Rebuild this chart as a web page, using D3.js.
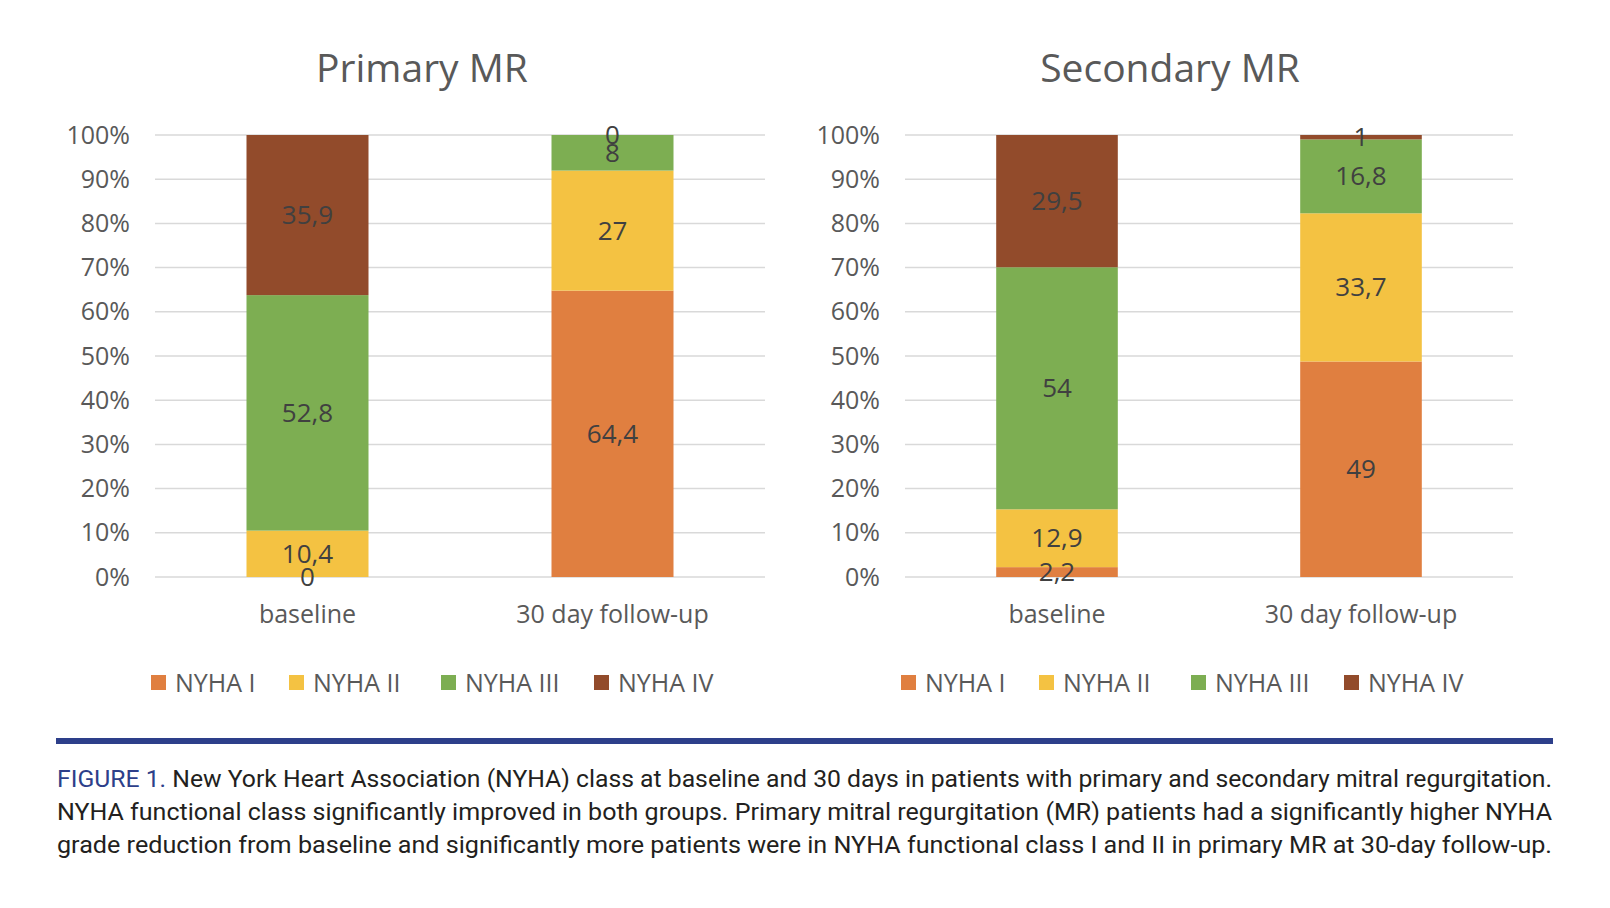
<!DOCTYPE html>
<meta charset="utf-8">
<head>
  <script src="https://d3js.org/d3.v7.min.js"></script>
</head>
<style>
body { margin: 0; background: white; }
.tick text { font-family: "Open Sans", sans-serif; fill: #595959; }
.seg-label { font-family: "Open Sans", sans-serif; fill: #404040; font-size: 26px; }
.chart-title { font-family: "Open Sans", sans-serif; fill: #595959; font-size: 39px; }
.legend text { font-family: "Open Sans", sans-serif; fill: #595959; font-size: 25px; }
.caption { font-family: "Roboto", "Liberation Sans Narrow", sans-serif; font-size: 24px; fill: #231f20; }
</style>
<body>
<svg width="1610" height="908" id="container"></svg>
<script>

// data
var classes = ["NYHA I", "NYHA II", "NYHA III", "NYHA IV"];
var classColors = ["#e07f40", "#f4c242", "#7dae52", "#924b2b"];
var timepoints = ["baseline", "30 day follow-up"];
var primaryValues = [[0, 10.4, 52.8, 35.9], [64.4, 27, 8, 0]];
var secondaryValues = [[2.2, 12.9, 54, 29.5], [49, 33.7, 16.8, 1]];
var yTicks = [0, 0.1, 0.2, 0.3, 0.4, 0.5, 0.6, 0.7, 0.8, 0.9, 1];
var captionLines = [
  "New York Heart Association (NYHA) class at baseline and 30 days in patients with primary and secondary mitral regurgitation.",
  "NYHA functional class significantly improved in both groups. Primary mitral regurgitation (MR) patients had a significantly higher NYHA",
  "grade reduction from baseline and significantly more patients were in NYHA functional class I and II in primary MR at 30-day follow-up."
];

var svg = d3.select('#container');
var color = d3.scaleOrdinal().domain(classes).range(classColors);

function fmt(v) { return String(v).replace('.', ','); }

function drawChart(title, values, left, right, titleX) {
  var top = 135, bottom = 577;
  var x = d3.scaleBand().domain(timepoints).range([left, right]).paddingInner(0.6).paddingOuter(0.3);
  var y = d3.scaleLinear().domain([0, 1]).range([bottom, top]);
  var g = svg.append('g');

  // grid
  g.selectAll('.grid')
   .data(yTicks)
   .enter().append('line')
   .attr('x1', left).attr('x2', right)
   .attr('y1', function(d) { return y(d); })
   .attr('y2', function(d) { return y(d); })
   .attr('stroke', '#d9d9d9').attr('stroke-width', 1.5);

  var yAxis = g.append('g')
               .attr('transform', 'translate(' + (left - 25) + ',0)')
               .call(d3.axisLeft(y).tickValues(yTicks).tickFormat(d3.format('.0%')).tickSize(0).tickPadding(0));
  yAxis.select('.domain').remove();
  yAxis.selectAll('text').style('font-size', '25px');

  var xAxis = g.append('g')
               .attr('transform', 'translate(0,' + (bottom + 28) + ')')
               .call(d3.axisBottom(x).tickSize(0).tickPadding(0));
  xAxis.select('.domain').remove();
  xAxis.selectAll('text').style('font-size', '25px').attr('dy', '0.71em');

  // stack, normalized to 100%
  var rows = values.map(function(v, i) {
    var total = d3.sum(v);
    var acc = 0;
    return v.map(function(val, k) {
      var seg = {tp: timepoints[i], cls: classes[k], value: val, y0: acc / total, y1: (acc + val) / total};
      acc += val;
      return seg;
    });
  });
  var segs = [].concat.apply([], rows);

  g.selectAll('.bar')
   .data(segs)
   .enter().append('rect')
   .attr('x', function(d) { return x(d.tp); })
   .attr('width', x.bandwidth())
   .attr('y', function(d) { return y(d.y1); })
   .attr('height', function(d) { return y(d.y0) - y(d.y1); })
   .attr('fill', function(d) { return color(d.cls); });

  g.selectAll('.seg-label')
   .data(segs)
   .enter().append('text')
   .attr('class', 'seg-label')
   .attr('x', function(d) { return x(d.tp) + x.bandwidth() / 2; })
   .attr('y', function(d) { return y((d.y0 + d.y1) / 2); })
   .attr('dy', '0.35em')
   .attr('text-anchor', 'middle')
   .text(function(d) { return fmt(d.value); });

  g.append('text')
   .attr('class', 'chart-title')
   .attr('x', titleX).attr('y', 82)
   .attr('text-anchor', 'middle')
   .text(title);

  // legend
  var legendX = [left - 4, left + 134, left + 286, left + 439];
  var lg = g.append('g').attr('class', 'legend');
  var item = lg.selectAll('g')
               .data(classes)
               .enter().append('g')
               .attr('transform', function(d, i) { return 'translate(' + legendX[i] + ',683)'; });
  item.append('rect')
      .attr('x', 0).attr('y', -8)
      .attr('width', 15).attr('height', 15)
      .attr('fill', function(d) { return color(d); });
  item.append('text')
      .attr('x', 24).attr('y', 0)
      .attr('dy', '0.35em')
      .text(function(d) { return d; });
}

drawChart('Primary MR', primaryValues, 155, 765, 422);
drawChart('Secondary MR', secondaryValues, 905, 1513, 1170);

// caption
svg.append('rect')
   .attr('x', 56).attr('y', 738)
   .attr('width', 1497).attr('height', 6)
   .attr('fill', '#2d3f8a');

captionLines.forEach(function(line, i) {
  var t = svg.append('text')
             .attr('class', 'caption')
             .attr('x', 57)
             .attr('y', 787 + i * 33)
             .attr('textLength', 1495)
             .attr('lengthAdjust', 'spacingAndGlyphs');
  if (i == 0) {
    t.append('tspan').attr('fill', '#2d3f8a').text('FIGURE 1. ');
  }
  t.append('tspan').text(line);
});

</script>
</body>
